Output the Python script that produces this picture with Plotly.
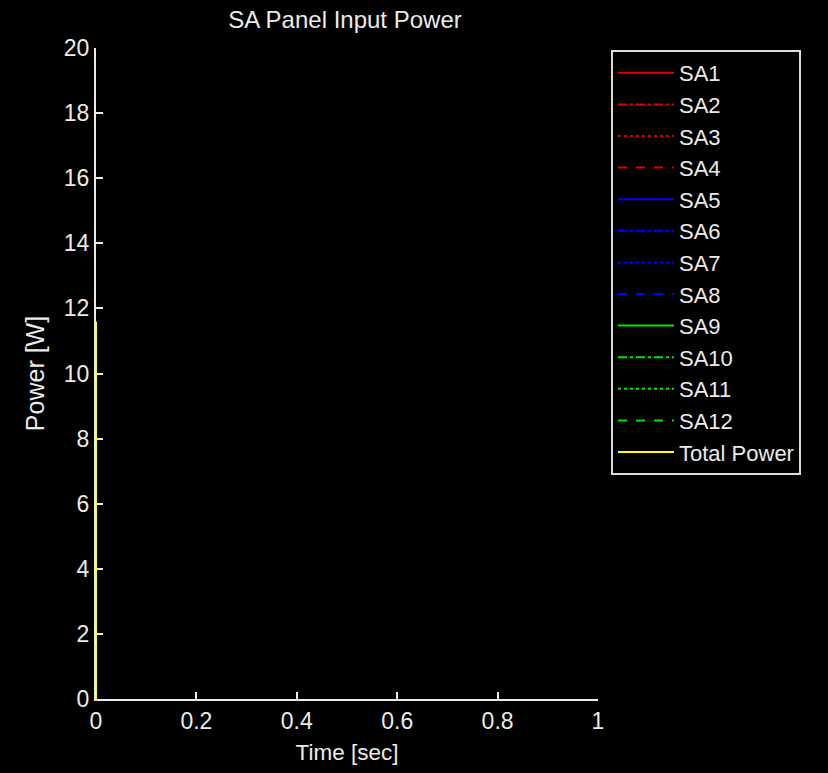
import plotly.graph_objects as go

# Data
time = [0, 0]
sa_names = ["SA1", "SA2", "SA3", "SA4", "SA5", "SA6", "SA7", "SA8", "SA9", "SA10", "SA11", "SA12"]
sa_values = [
    [0, 0.97], [0, 0.97], [0, 0.97], [0, 0.97],
    [0, 0.97], [0, 0.97], [0, 0.97], [0, 0.97],
    [0, 0.97], [0, 0.97], [0, 0.97], [0, 0.97],
]
total_power = [0, 11.6]
x_ticks = [0, 0.2, 0.4, 0.6, 0.8, 1]
x_tick_labels = ["0", "0.2", "0.4", "0.6", "0.8", "1"]
y_ticks = [0, 2, 4, 6, 8, 10, 12, 14, 16, 18, 20]

colors = ["rgb(225,0,0)"] * 4 + ["rgb(0,0,255)"] * 4 + ["rgb(0,230,0)"] * 4
dashes = ["solid", "dashdot", "dot", "dash"] * 3

FONT = "Liberation Sans Narrow, Liberation Sans, Arial, sans-serif"
FG = "rgb(235,235,235)"

fig = go.Figure()
for name, vals, c, d in zip(sa_names, sa_values, colors, dashes):
    fig.add_trace(go.Scatter(x=time, y=vals, mode="lines", name=name, legendgroup=name,
                             line=dict(color=c, dash=d, width=2)))
fig.add_trace(go.Scatter(x=time, y=total_power, mode="lines", name="Total Power",
                         legendgroup="total", line=dict(color="rgb(255,255,0)", width=2)))

fig.update_layout(
    width=828, height=773,
    paper_bgcolor="black", plot_bgcolor="black",
    margin=dict(l=96, r=230, t=48, b=71),
    font=dict(family=FONT, size=23, color=FG),
    title=dict(text="SA Panel Input Power", x=345 / 828, xanchor="center",
               y=1 - 20 / 773, yanchor="middle", font=dict(size=24, color=FG)),
    showlegend=True,
    legend=dict(x=(611 - 96) / 502, y=(702 - 50) / 654, xanchor="left", yanchor="top",
                bgcolor="black", bordercolor="rgb(220,220,220)", borderwidth=2,
                tracegroupgap=0, itemwidth=56,
                font=dict(size=22, color=FG)),
    xaxis=dict(range=[0, 1], tickvals=x_ticks, ticktext=x_tick_labels,
               showgrid=False, zeroline=False, showline=True, linecolor=FG, linewidth=2,
               ticks="inside", ticklen=7, tickcolor=FG, tickwidth=2, layer="below traces",
               title=dict(text="Time [sec]", standoff=12, font=dict(size=22.5)),
               tickfont=dict(size=23)),
    yaxis=dict(range=[0, 20], tickvals=y_ticks,
               showgrid=False, zeroline=False, showline=True, linecolor=FG, linewidth=2,
               ticks="inside", ticklen=7, tickcolor=FG, tickwidth=2, layer="below traces",
               title=dict(text="Power [W]", standoff=12, font=dict(size=25)),
               tickfont=dict(size=23)),
)

fig.write_html("out.html", config={"displayModeBar": False},
               post_script="document.body.style.margin='0';document.body.style.background='black';")
